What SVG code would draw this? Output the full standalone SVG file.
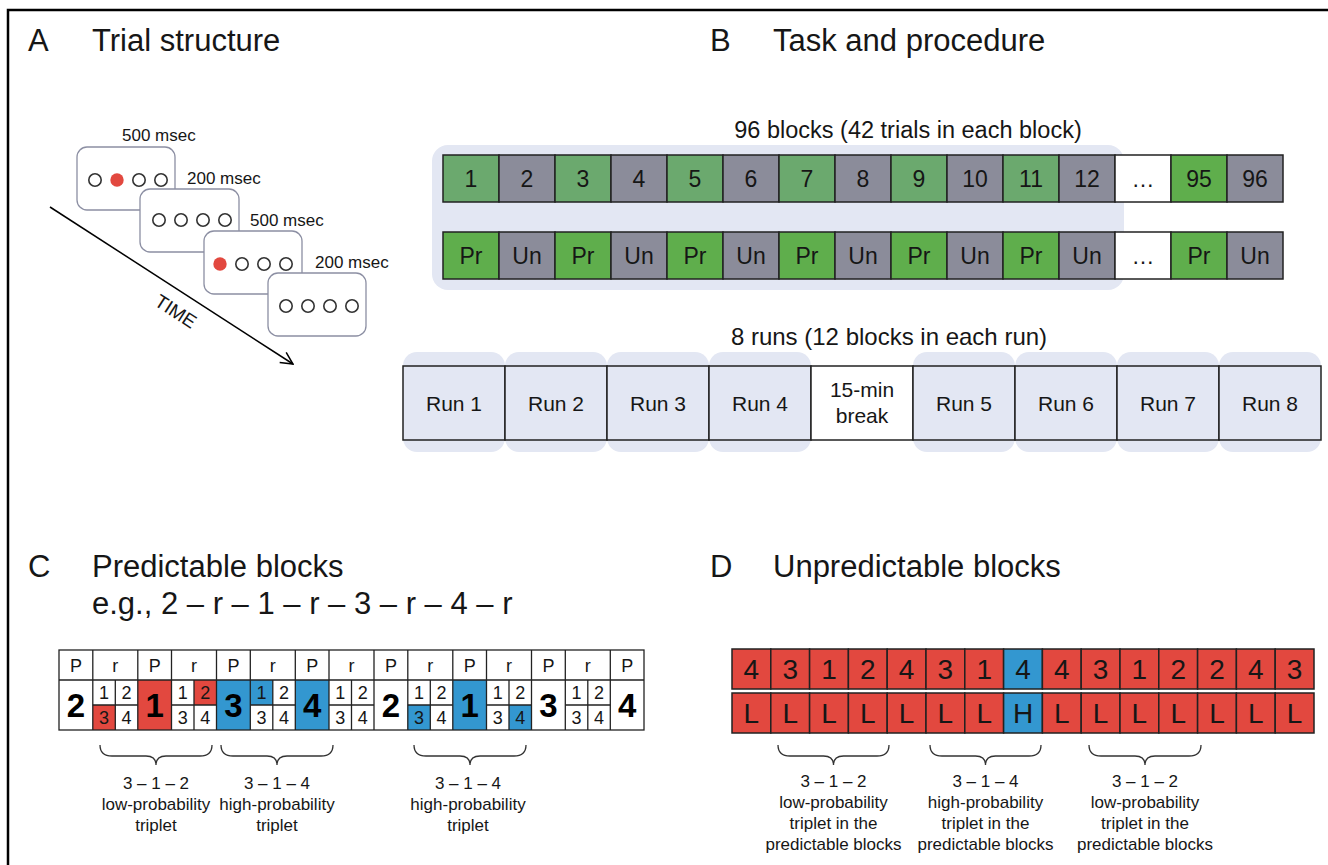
<svg xmlns="http://www.w3.org/2000/svg" width="1328" height="865" viewBox="0 0 1328 865">
<defs>
<style>
text{font-family:"Liberation Sans",Arial,Helvetica,sans-serif;fill:#161616}
.ttl{font-size:31px}
.lbl{font-size:17px}
.sm{font-size:17px;text-anchor:middle}
.cbt{font-size:23px;text-anchor:middle}
.run{font-size:21px;text-anchor:middle}
.hd{font-size:18px;text-anchor:middle}
.big{font-size:33px;font-weight:bold;text-anchor:middle;fill:#000}
.sub{font-size:18px;text-anchor:middle}
.dt{font-size:28px;text-anchor:middle}
.scr{fill:#fff;stroke:#8c8fa3;stroke-width:1.3}
.dot{fill:#fff;stroke:#333;stroke-width:1.6}
.red{fill:#e2483f}
.blu{fill:#3397d0}
.g1{fill:#6ba96e}
.g2{fill:#5fae4c}
.gy{fill:#8b8c9a}
.wh{fill:#fff}
.cell{stroke:#222;stroke-width:1.5}
.bg{fill:#e3e7f3}
.ln{stroke:#222;stroke-width:1.3;fill:none}
.brace{stroke:#333;stroke-width:1.3;fill:none}
</style>
<marker id="arr" viewBox="0 0 14 14" refX="13" refY="7" markerWidth="14" markerHeight="14" markerUnits="userSpaceOnUse" orient="auto">
<path d="M1,1 L13,7 L1,13" fill="none" stroke="#000" stroke-width="1.5"/>
</marker>
</defs>
<rect width="1328" height="865" fill="#fff"/>
<path d="M8,865 L8,10 L1328,10" fill="none" stroke="#000" stroke-width="2.5"/>

<!-- Panel A -->
<g id="panelA">
<text class="ttl" x="28" y="51">A</text>
<text class="ttl" x="92" y="51">Trial structure</text>
<g id="screen1">
<rect class="scr" x="77" y="147" width="98" height="63" rx="10"/>
<circle class="dot" cx="95" cy="180" r="6.2"/>
<circle class="red" cx="117" cy="180" r="6.7"/>
<circle class="dot" cx="139" cy="180" r="6.2"/>
<circle class="dot" cx="161" cy="180" r="6.2"/>
<text class="lbl" x="122" y="141">500 msec</text>
</g>
<g id="screen2">
<rect class="scr" x="140" y="189" width="99" height="63" rx="10"/>
<circle class="dot" cx="159" cy="220" r="6.2"/>
<circle class="dot" cx="181" cy="220" r="6.2"/>
<circle class="dot" cx="203" cy="220" r="6.2"/>
<circle class="dot" cx="225" cy="220" r="6.2"/>
<text class="lbl" x="187" y="184">200 msec</text>
</g>
<g id="screen3">
<rect class="scr" x="204" y="231" width="98" height="63" rx="10"/>
<circle class="red" cx="220" cy="264" r="6.7"/>
<circle class="dot" cx="242" cy="264" r="6.2"/>
<circle class="dot" cx="264" cy="264" r="6.2"/>
<circle class="dot" cx="286" cy="264" r="6.2"/>
<text class="lbl" x="250" y="226">500 msec</text>
</g>
<g id="screen4">
<rect class="scr" x="268" y="273" width="98" height="63" rx="10"/>
<circle class="dot" cx="286" cy="306" r="6.2"/>
<circle class="dot" cx="308" cy="306" r="6.2"/>
<circle class="dot" cx="330" cy="306" r="6.2"/>
<circle class="dot" cx="352" cy="306" r="6.2"/>
<text class="lbl" x="315" y="268">200 msec</text>
</g>
<text text-anchor="middle" font-size="19" transform="translate(176,311) rotate(33)" y="7">TIME</text>
</g>

<g id="connectors">
<line x1="50" y1="207" x2="293" y2="364" stroke="#000" stroke-width="1.5" marker-end="url(#arr)"/>
</g>

<!-- Panel B -->
<g id="panelB">
<text class="ttl" x="710" y="51">B</text>
<text class="ttl" x="773" y="51">Task and procedure</text>
<text x="908" y="138" font-size="23.5" text-anchor="middle">96 blocks (42 trials in each block)</text>
<rect class="bg" x="432" y="145" width="692" height="145" rx="16"/>
<g id="blocksRow">
<rect class="cell g1" x="443" y="155" width="56" height="47"/>
<rect class="cell gy" x="499" y="155" width="56" height="47"/>
<rect class="cell g1" x="555" y="155" width="56" height="47"/>
<rect class="cell gy" x="611" y="155" width="56" height="47"/>
<rect class="cell g1" x="667" y="155" width="56" height="47"/>
<rect class="cell gy" x="723" y="155" width="56" height="47"/>
<rect class="cell g1" x="779" y="155" width="56" height="47"/>
<rect class="cell gy" x="835" y="155" width="56" height="47"/>
<rect class="cell g1" x="891" y="155" width="56" height="47"/>
<rect class="cell gy" x="947" y="155" width="56" height="47"/>
<rect class="cell g1" x="1003" y="155" width="56" height="47"/>
<rect class="cell gy" x="1059" y="155" width="56" height="47"/>
<rect class="cell wh" x="1115" y="155" width="56" height="47"/>
<rect class="cell g2" x="1171" y="155" width="56" height="47"/>
<rect class="cell gy" x="1227" y="155" width="56" height="47"/>
<text class="cbt" x="471" y="187">1</text>
<text class="cbt" x="527" y="187">2</text>
<text class="cbt" x="583" y="187">3</text>
<text class="cbt" x="639" y="187">4</text>
<text class="cbt" x="695" y="187">5</text>
<text class="cbt" x="751" y="187">6</text>
<text class="cbt" x="807" y="187">7</text>
<text class="cbt" x="863" y="187">8</text>
<text class="cbt" x="919" y="187">9</text>
<text class="cbt" x="975" y="187">10</text>
<text class="cbt" x="1031" y="187">11</text>
<text class="cbt" x="1087" y="187">12</text>
<text class="cbt" x="1143" y="187">…</text>
<text class="cbt" x="1199" y="187">95</text>
<text class="cbt" x="1255" y="187">96</text>
</g>
<g id="typeRow">
<rect class="cell g2" x="443" y="232" width="56" height="47"/>
<rect class="cell gy" x="499" y="232" width="56" height="47"/>
<rect class="cell g2" x="555" y="232" width="56" height="47"/>
<rect class="cell gy" x="611" y="232" width="56" height="47"/>
<rect class="cell g2" x="667" y="232" width="56" height="47"/>
<rect class="cell gy" x="723" y="232" width="56" height="47"/>
<rect class="cell g2" x="779" y="232" width="56" height="47"/>
<rect class="cell gy" x="835" y="232" width="56" height="47"/>
<rect class="cell g2" x="891" y="232" width="56" height="47"/>
<rect class="cell gy" x="947" y="232" width="56" height="47"/>
<rect class="cell g2" x="1003" y="232" width="56" height="47"/>
<rect class="cell gy" x="1059" y="232" width="56" height="47"/>
<rect class="cell wh" x="1115" y="232" width="56" height="47"/>
<rect class="cell g2" x="1171" y="232" width="56" height="47"/>
<rect class="cell gy" x="1227" y="232" width="56" height="47"/>
<text class="cbt" x="471" y="264">Pr</text>
<text class="cbt" x="527" y="264">Un</text>
<text class="cbt" x="583" y="264">Pr</text>
<text class="cbt" x="639" y="264">Un</text>
<text class="cbt" x="695" y="264">Pr</text>
<text class="cbt" x="751" y="264">Un</text>
<text class="cbt" x="807" y="264">Pr</text>
<text class="cbt" x="863" y="264">Un</text>
<text class="cbt" x="919" y="264">Pr</text>
<text class="cbt" x="975" y="264">Un</text>
<text class="cbt" x="1031" y="264">Pr</text>
<text class="cbt" x="1087" y="264">Un</text>
<text class="cbt" x="1143" y="264">…</text>
<text class="cbt" x="1199" y="264">Pr</text>
<text class="cbt" x="1255" y="264">Un</text>
</g>
<text x="889" y="345" font-size="24" text-anchor="middle">8 runs (12 blocks in each run)</text>
<g id="runs">
<rect class="bg" x="403" y="352" width="102" height="100" rx="14"/>
<rect class="bg" x="505" y="352" width="102" height="100" rx="14"/>
<rect class="bg" x="607" y="352" width="102" height="100" rx="14"/>
<rect class="bg" x="709" y="352" width="102" height="100" rx="14"/>
<rect class="bg" x="913" y="352" width="102" height="100" rx="14"/>
<rect class="bg" x="1015" y="352" width="102" height="100" rx="14"/>
<rect class="bg" x="1117" y="352" width="102" height="100" rx="14"/>
<rect class="bg" x="1219" y="352" width="102" height="100" rx="14"/>
<rect class="cell bg" x="403" y="366" width="102" height="74"/>
<rect class="cell bg" x="505" y="366" width="102" height="74"/>
<rect class="cell bg" x="607" y="366" width="102" height="74"/>
<rect class="cell bg" x="709" y="366" width="102" height="74"/>
<rect class="cell wh" x="811" y="366" width="102" height="74"/>
<rect class="cell bg" x="913" y="366" width="102" height="74"/>
<rect class="cell bg" x="1015" y="366" width="102" height="74"/>
<rect class="cell bg" x="1117" y="366" width="102" height="74"/>
<rect class="cell bg" x="1219" y="366" width="102" height="74"/>
<text class="run" x="454" y="411">Run 1</text>
<text class="run" x="556" y="411">Run 2</text>
<text class="run" x="658" y="411">Run 3</text>
<text class="run" x="760" y="411">Run 4</text>
<text class="run" x="862" y="397">15-min</text>
<text class="run" x="862" y="423">break</text>
<text class="run" x="964" y="411">Run 5</text>
<text class="run" x="1066" y="411">Run 6</text>
<text class="run" x="1168" y="411">Run 7</text>
<text class="run" x="1270" y="411">Run 8</text>
</g>
</g>

<!-- Panel C -->
<g id="panelC">
<text class="ttl" x="28" y="577">C</text>
<text class="ttl" x="92" y="577">Predictable blocks</text>
<text class="ttl" x="92" y="614">e.g., 2 – r – 1 – r – 3 – r – 4 – r</text>
<g id="seqTable">
<rect class="red" x="92.8" y="705" width="22.5" height="25"/>
<rect class="red" x="137.8" y="680" width="33.7" height="50"/>
<rect class="red" x="194" y="680" width="22.5" height="25"/>
<rect class="blu" x="216.5" y="680" width="33.8" height="50"/>
<rect class="blu" x="250.3" y="680" width="22.5" height="25"/>
<rect class="blu" x="295.3" y="680" width="33.7" height="50"/>
<rect class="blu" x="407.8" y="705" width="22.5" height="25"/>
<rect class="blu" x="452.8" y="680" width="33.7" height="50"/>
<rect class="blu" x="509" y="705" width="22.5" height="25"/>
<rect class="ln" x="59" y="650" width="585" height="80" stroke-width="1.6"/>
<path class="ln" d="M59,680 H644 M92.8,650 V730 M137.8,650 V730 M171.5,650 V730 M216.5,650 V730 M250.3,650 V730 M295.3,650 V730 M329,650 V730 M374,650 V730 M407.8,650 V730 M452.8,650 V730 M486.5,650 V730 M531.5,650 V730 M565.3,650 V730 M610.3,650 V730"/>
<path class="ln" d="M115.3,680 V730 M92.8,705 H137.8 M194,680 V730 M171.5,705 H216.5 M272.8,680 V730 M250.3,705 H295.3 M351.5,680 V730 M329,705 H374 M430.3,680 V730 M407.8,705 H452.8 M509,680 V730 M486.5,705 H531.5 M587.8,680 V730 M565.3,705 H610.3"/>
<text class="hd" x="75.9" y="672">P</text>
<text class="hd" x="115.3" y="672">r</text>
<text class="hd" x="154.7" y="672">P</text>
<text class="hd" x="194" y="672">r</text>
<text class="hd" x="233.4" y="672">P</text>
<text class="hd" x="272.8" y="672">r</text>
<text class="hd" x="312.2" y="672">P</text>
<text class="hd" x="351.5" y="672">r</text>
<text class="hd" x="390.9" y="672">P</text>
<text class="hd" x="430.3" y="672">r</text>
<text class="hd" x="469.7" y="672">P</text>
<text class="hd" x="509" y="672">r</text>
<text class="hd" x="548.4" y="672">P</text>
<text class="hd" x="587.8" y="672">r</text>
<text class="hd" x="627.2" y="672">P</text>
<text class="big" x="75.9" y="717">2</text>
<text class="big" x="154.7" y="717">1</text>
<text class="big" x="233.4" y="717">3</text>
<text class="big" x="312.2" y="717">4</text>
<text class="big" x="390.9" y="717">2</text>
<text class="big" x="469.7" y="717">1</text>
<text class="big" x="548.4" y="717">3</text>
<text class="big" x="627.2" y="717">4</text>
<g>
<text class="sub" x="104" y="699">1</text><text class="sub" x="126.5" y="699">2</text><text class="sub" x="104" y="724">3</text><text class="sub" x="126.5" y="724">4</text>
<text class="sub" x="182.8" y="699">1</text><text class="sub" x="205.3" y="699">2</text><text class="sub" x="182.8" y="724">3</text><text class="sub" x="205.3" y="724">4</text>
<text class="sub" x="261.5" y="699">1</text><text class="sub" x="284" y="699">2</text><text class="sub" x="261.5" y="724">3</text><text class="sub" x="284" y="724">4</text>
<text class="sub" x="340.3" y="699">1</text><text class="sub" x="362.8" y="699">2</text><text class="sub" x="340.3" y="724">3</text><text class="sub" x="362.8" y="724">4</text>
<text class="sub" x="419" y="699">1</text><text class="sub" x="441.5" y="699">2</text><text class="sub" x="419" y="724">3</text><text class="sub" x="441.5" y="724">4</text>
<text class="sub" x="497.8" y="699">1</text><text class="sub" x="520.3" y="699">2</text><text class="sub" x="497.8" y="724">3</text><text class="sub" x="520.3" y="724">4</text>
<text class="sub" x="576.5" y="699">1</text><text class="sub" x="599" y="699">2</text><text class="sub" x="576.5" y="724">3</text><text class="sub" x="599" y="724">4</text>
</g>
</g>
<path class="brace" d="M100,745 Q100,756 112,756 L146,756 Q156,756 156,765 Q156,756 166,756 L200,756 Q212,756 212,745"/>
<path class="brace" d="M221,745 Q221,756 233,756 L267,756 Q277,756 277,765 Q277,756 287,756 L321,756 Q333,756 333,745"/>
<path class="brace" d="M414,745 Q414,756 426,756 L460,756 Q470,756 470,765 Q470,756 480,756 L514,756 Q526,756 526,745"/>
<text class="sm" x="156" y="789">3 – 1 – 2</text>
<text class="sm" x="156" y="810">low-probability</text>
<text class="sm" x="156" y="831">triplet</text>
<text class="sm" x="277" y="789">3 – 1 – 4</text>
<text class="sm" x="277" y="810">high-probability</text>
<text class="sm" x="277" y="831">triplet</text>
<text class="sm" x="468" y="789">3 – 1 – 4</text>
<text class="sm" x="468" y="810">high-probability</text>
<text class="sm" x="468" y="831">triplet</text>
</g>

<!-- Panel D -->
<g id="panelD">
<text class="ttl" x="710" y="577">D</text>
<text class="ttl" x="773" y="577">Unpredictable blocks</text>
<g id="dRow1">
<rect class="cell red" x="732" y="649" width="38.8" height="40"/>
<rect class="cell red" x="770.8" y="649" width="38.8" height="40"/>
<rect class="cell red" x="809.6" y="649" width="38.8" height="40"/>
<rect class="cell red" x="848.4" y="649" width="38.8" height="40"/>
<rect class="cell red" x="887.2" y="649" width="38.8" height="40"/>
<rect class="cell red" x="926" y="649" width="38.8" height="40"/>
<rect class="cell red" x="964.8" y="649" width="38.8" height="40"/>
<rect class="cell blu" x="1003.6" y="649" width="38.8" height="40"/>
<rect class="cell red" x="1042.4" y="649" width="38.8" height="40"/>
<rect class="cell red" x="1081.2" y="649" width="38.8" height="40"/>
<rect class="cell red" x="1120" y="649" width="38.8" height="40"/>
<rect class="cell red" x="1158.8" y="649" width="38.8" height="40"/>
<rect class="cell red" x="1197.6" y="649" width="38.8" height="40"/>
<rect class="cell red" x="1236.4" y="649" width="38.8" height="40"/>
<rect class="cell red" x="1275.2" y="649" width="38.8" height="40"/>
<text class="dt" x="751.4" y="679">4</text>
<text class="dt" x="790.2" y="679">3</text>
<text class="dt" x="829" y="679">1</text>
<text class="dt" x="867.8" y="679">2</text>
<text class="dt" x="906.6" y="679">4</text>
<text class="dt" x="945.4" y="679">3</text>
<text class="dt" x="984.2" y="679">1</text>
<text class="dt" x="1023" y="679">4</text>
<text class="dt" x="1061.8" y="679">4</text>
<text class="dt" x="1100.6" y="679">3</text>
<text class="dt" x="1139.4" y="679">1</text>
<text class="dt" x="1178.2" y="679">2</text>
<text class="dt" x="1217" y="679">2</text>
<text class="dt" x="1255.8" y="679">4</text>
<text class="dt" x="1294.6" y="679">3</text>
</g>
<g id="dRow2">
<rect class="cell red" x="732" y="693" width="38.8" height="40"/>
<rect class="cell red" x="770.8" y="693" width="38.8" height="40"/>
<rect class="cell red" x="809.6" y="693" width="38.8" height="40"/>
<rect class="cell red" x="848.4" y="693" width="38.8" height="40"/>
<rect class="cell red" x="887.2" y="693" width="38.8" height="40"/>
<rect class="cell red" x="926" y="693" width="38.8" height="40"/>
<rect class="cell red" x="964.8" y="693" width="38.8" height="40"/>
<rect class="cell blu" x="1003.6" y="693" width="38.8" height="40"/>
<rect class="cell red" x="1042.4" y="693" width="38.8" height="40"/>
<rect class="cell red" x="1081.2" y="693" width="38.8" height="40"/>
<rect class="cell red" x="1120" y="693" width="38.8" height="40"/>
<rect class="cell red" x="1158.8" y="693" width="38.8" height="40"/>
<rect class="cell red" x="1197.6" y="693" width="38.8" height="40"/>
<rect class="cell red" x="1236.4" y="693" width="38.8" height="40"/>
<rect class="cell red" x="1275.2" y="693" width="38.8" height="40"/>
<text class="dt" x="751.4" y="723">L</text>
<text class="dt" x="790.2" y="723">L</text>
<text class="dt" x="829" y="723">L</text>
<text class="dt" x="867.8" y="723">L</text>
<text class="dt" x="906.6" y="723">L</text>
<text class="dt" x="945.4" y="723">L</text>
<text class="dt" x="984.2" y="723">L</text>
<text class="dt" x="1023" y="723">H</text>
<text class="dt" x="1061.8" y="723">L</text>
<text class="dt" x="1100.6" y="723">L</text>
<text class="dt" x="1139.4" y="723">L</text>
<text class="dt" x="1178.2" y="723">L</text>
<text class="dt" x="1217" y="723">L</text>
<text class="dt" x="1255.8" y="723">L</text>
<text class="dt" x="1294.6" y="723">L</text>
</g>
<path class="brace" d="M778,745 Q778,756 790,756 L823.5,756 Q833.5,756 833.5,765 Q833.5,756 843.5,756 L877,756 Q889,756 889,745"/>
<path class="brace" d="M930,745 Q930,756 942,756 L975.5,756 Q985.5,756 985.5,765 Q985.5,756 995.5,756 L1029,756 Q1041,756 1041,745"/>
<path class="brace" d="M1089,745 Q1089,756 1101,756 L1135,756 Q1145,756 1145,765 Q1145,756 1155,756 L1189,756 Q1201,756 1201,745"/>
<text class="sm" x="833.5" y="787">3 – 1 – 2</text>
<text class="sm" x="833.5" y="808">low-probability</text>
<text class="sm" x="833.5" y="829">triplet in the</text>
<text class="sm" x="833.5" y="850">predictable blocks</text>
<text class="sm" x="985.5" y="787">3 – 1 – 4</text>
<text class="sm" x="985.5" y="808">high-probability</text>
<text class="sm" x="985.5" y="829">triplet in the</text>
<text class="sm" x="985.5" y="850">predictable blocks</text>
<text class="sm" x="1145" y="787">3 – 1 – 2</text>
<text class="sm" x="1145" y="808">low-probability</text>
<text class="sm" x="1145" y="829">triplet in the</text>
<text class="sm" x="1145" y="850">predictable blocks</text>
</g>
</svg>
